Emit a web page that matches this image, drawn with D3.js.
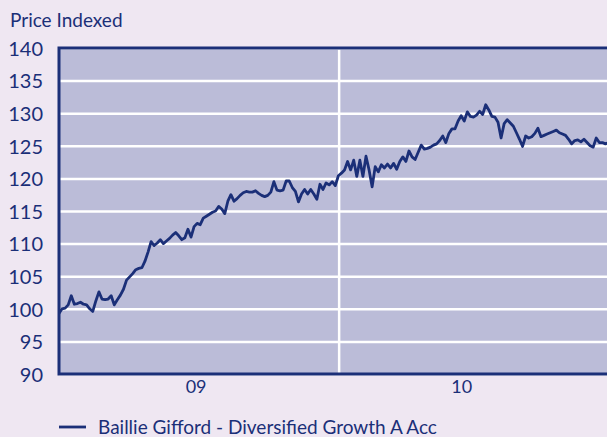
<!DOCTYPE html>
<html>
<head>
<meta charset="utf-8">
<script src="https://cdn.jsdelivr.net/npm/d3@7"></script>
<style>
  body { margin: 0; background: #efe7f2; }
  svg { display: block; }
  text { font-family: Lato, "Noto Sans", sans-serif; fill: #1b2f78; }
</style>
</head>
<body>
<svg width="607" height="437"></svg>
<script>
// fund price, indexed to 100, sampled every 4 days from 2009-01-01
const startDate = '2009-01-01';
const stepDays = 4;
const prices = [
  99.3, 100.0, 100.1, 100.6, 102.0, 100.7, 100.8, 101.0, 100.7, 100.6,
  100.0, 99.6, 101.2, 102.6, 101.5, 101.4, 101.5, 102.0, 100.6, 101.4,
  102.1, 103.0, 104.4, 104.9, 105.4, 106.0, 106.2, 106.3, 107.3, 108.7,
  110.3, 109.7, 110.1, 110.6, 110.0, 110.4, 110.8, 111.3, 111.7, 111.2,
  110.6, 110.9, 112.2, 111.0, 112.6, 113.1, 112.9, 113.9, 114.2, 114.5,
  114.8, 115.0, 115.7, 115.3, 114.6, 116.5, 117.5, 116.5, 116.9, 117.4,
  117.8, 118.0, 117.9, 117.9, 118.1, 117.7, 117.4, 117.2, 117.4, 117.9,
  119.5, 118.2, 118.1, 118.2, 119.6, 119.6, 118.6, 118.0, 116.4, 117.6,
  118.3, 117.6, 118.3, 117.6, 116.8, 119.1, 118.3, 119.3, 119.0, 119.5,
  118.9, 120.4, 120.8, 121.3, 122.6, 121.3, 122.8, 120.3, 122.8, 120.3,
  123.4, 121.3, 118.7, 121.8, 121.0, 122.1, 121.6, 122.2, 121.6, 122.3,
  121.4, 122.6, 123.3, 122.6, 124.2, 123.3, 122.9, 124.0, 125.1, 124.5,
  124.6, 124.8, 125.1, 125.3, 125.8, 126.5, 125.5, 126.9, 127.6, 127.6,
  128.8, 129.6, 128.8, 130.2, 129.5, 129.4, 129.7, 130.3, 129.8, 131.3,
  130.5, 129.5, 129.4, 128.6, 126.2, 128.4, 129.0, 128.5, 128.0, 127.0,
  126.0, 124.9, 126.5, 126.2, 126.4, 126.9, 127.7, 126.4, 126.6, 126.8,
  127.0, 127.2, 127.4, 127.0, 126.8, 126.6, 126.0, 125.3, 125.8, 125.9,
  125.6, 126.0, 125.5, 125.0, 124.8, 126.2, 125.5, 125.5, 125.3, 125.5
];

const yTicks = [90, 95, 100, 105, 110, 115, 120, 125, 130, 135, 140];
const xLabels = ['09', '10'];
const xLabelDates = ['2009-06-28', '2010-06-09'];
const yearLines = ['2010-01-01'];
const domainDates = ['2009-01-01', '2010-12-16'];
const seriesName = 'Baillie Gifford - Diversified Growth A Acc';

const navy = '#1b2f78';
const plotFill = '#bbbcd8';

const margin = { left: 59, right: 0, top: 48, bottom: 63 };
const width = 607 - margin.left - margin.right;
const height = 437 - margin.top - margin.bottom;

const svg = d3.select('svg');

const x = d3.scaleUtc()
    .domain(domainDates.map(d => new Date(d)))
    .range([0, width]);

const y = d3.scaleLinear()
    .domain([90, 140])
    .range([height, 0]);

const data = prices.map((v, i) => ({
    date: d3.utcDay.offset(new Date(startDate), i * stepDays),
    value: v
}));

svg.append('text')
    .attr('x', 10)
    .attr('y', 27)
    .style('font-size', '19px')
    .text('Price Indexed');

const chart = svg.append('g')
    .attr('transform', `translate(${margin.left}, ${margin.top})`);

chart.append('rect')
    .attr('width', width)
    .attr('height', height)
    .attr('fill', plotFill);

// horizontal grid
chart.append('g')
    .call(d3.axisLeft(y)
        .tickValues(yTicks)
        .tickSize(-width)
        .tickFormat(''))
    .call(g => g.select('.domain').remove())
    .call(g => g.selectAll('line').attr('stroke', '#fff').attr('stroke-width', 2.5));

// year divider
chart.append('g')
    .selectAll('line')
    .data(yearLines)
    .enter()
    .append('line')
    .attr('x1', d => x(new Date(d)))
    .attr('x2', d => x(new Date(d)))
    .attr('y1', 0)
    .attr('y2', height)
    .attr('stroke', '#fff')
    .attr('stroke-width', 2.5);

chart.append('clipPath')
    .attr('id', 'clip')
    .append('rect')
    .attr('width', width)
    .attr('height', height);

const line = d3.line()
    .x(d => x(d.date))
    .y(d => y(d.value));

chart.append('path')
    .datum(data)
    .attr('clip-path', 'url(#clip)')
    .attr('fill', 'none')
    .attr('stroke', navy)
    .attr('stroke-width', 2.8)
    .attr('stroke-linejoin', 'round')
    .attr('d', line);

// frame: left, top, bottom
chart.append('path')
    .attr('d', `M${width},0H0V${height}H${width}`)
    .attr('fill', 'none')
    .attr('stroke', navy)
    .attr('stroke-width', 3);

// y labels
chart.append('g')
    .call(d3.axisLeft(y)
        .tickValues(yTicks)
        .tickSize(0)
        .tickPadding(16))
    .call(g => g.select('.domain').remove())
    .call(g => g.selectAll('text')
        .attr('dy', '0.36em')
        .style('font-size', '20px')
        .style('font-family', 'Lato, sans-serif')
        .attr('fill', navy));

// x labels
chart.append('g')
    .attr('transform', `translate(0, ${height})`)
    .call(d3.axisBottom(x)
        .tickValues(xLabelDates.map(d => new Date(d)))
        .tickFormat((d, i) => xLabels[i])
        .tickSize(0)
        .tickPadding(6))
    .call(g => g.select('.domain').remove())
    .call(g => g.selectAll('text')
        .style('font-size', '18px')
        .style('font-family', 'Lato, sans-serif')
        .attr('fill', navy));

// legend
const legend = svg.append('g')
    .attr('transform', 'translate(59, 427)');

legend.append('line')
    .attr('x1', 0)
    .attr('x2', 27)
    .attr('stroke', navy)
    .attr('stroke-width', 2.8);

legend.append('text')
    .attr('x', 39)
    .attr('y', 7)
    .style('font-size', '19px')
    .text(seriesName);
</script>
</body>
</html>
